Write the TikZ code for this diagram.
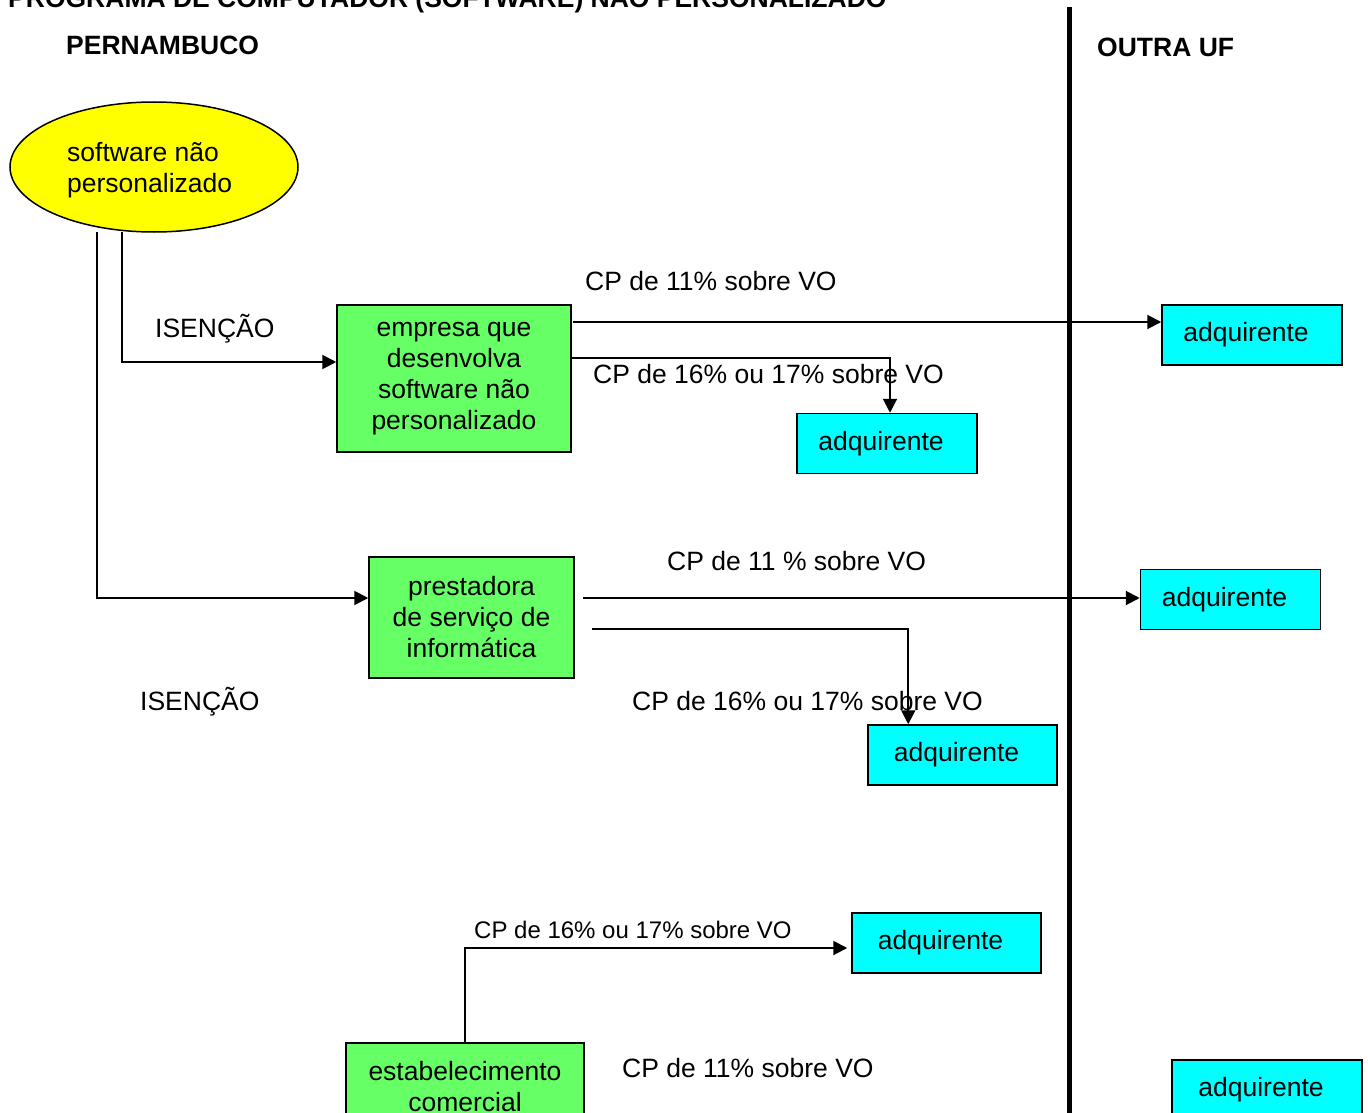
\documentclass[tikz,border=0pt]{standalone}
\usepackage{fontspec}
\setmainfont{Liberation Sans}
\usetikzlibrary{arrows.meta,shapes.geometric,calc}
\definecolor{boxgreen}{HTML}{66FF66}
\definecolor{boxcyan}{HTML}{00FFFF}
\definecolor{ellyellow}{HTML}{FFFF00}
\tikzset{
  conn/.style={line width=2pt, -{Triangle[length=14pt,width=14pt]}},
  plainline/.style={line width=2pt},
  greenbox/.style={draw, line width=1.5pt, fill=boxgreen, align=center, inner sep=0pt},
  cyanbox/.style={draw, line width=1.5pt, fill=boxcyan, inner sep=0pt, minimum width=180pt, minimum height=60pt},
  lbl/.style={anchor=base west, inner sep=0pt},
  boldlbl/.style={anchor=base west, inner sep=0pt, font=\fontsize{26.5}{31}\selectfont\bfseries},
}
\newcommand{\adqtext}{\kern-12pt\raisebox{3pt}{adquirente}}
\begin{document}
\begin{tikzpicture}[x=1pt,y=-1pt,font=\fontsize{26.5}{31}\selectfont]
\path[use as bounding box, clip] (0,0) rectangle (1368,1113);
\fill[white] (0,0) rectangle (1368,1113);

% headings
\node[boldlbl] (title) at (8,8) {PROGRAMA DE COMPUTADOR (SOFTWARE) NÃO PERSONALIZADO};
\node[boldlbl] (pe) at (66,55) {PERNAMBUCO};
\node[boldlbl] (ou) at (1097,57) {OUTRA UF};

% ellipse
\node[ellipse, draw, line width=1.5pt, fill=ellyellow, minimum width=288pt, minimum height=130pt, inner sep=0pt] (sw) at (154,167) {};
\node[anchor=west, inner sep=0pt, align=left] (swtext) at (67,170) {software não\\personalizado};

% green boxes
\node[greenbox, minimum width=234pt, minimum height=147pt] (emp) at (454,378.5) {empresa que\\desenvolva\\software não\\personalizado};
\node[greenbox, minimum width=205pt, minimum height=121pt] (pre) at (471.5,617.5) {prestadora\\de serviço de\\informática};
\node[greenbox, minimum width=238pt, minimum height=88pt] (est) at (465,1087) {estabelecimento\\comercial};

% cyan boxes
\node[cyanbox] (a1) at (1252,335) {\adqtext};
\node[cyanbox] (a2) at (887,443.5) {\adqtext};
\node[cyanbox] (a3) at (1230.5,599.5) {\adqtext};
\node[cyanbox, minimum width=189pt] (a4) at (962.5,755) {\adqtext};
\node[cyanbox, minimum width=189pt] (a5) at (946.5,943) {\adqtext};
\node[cyanbox, minimum width=190pt] (a6) at (1267,1090) {\adqtext};

% labels
\node[lbl] (l1) at (585,290) {CP de 11\% sobre VO};
\node[lbl] (l2) at (593,383) {CP de 16\% ou 17\% sobre VO};
\node[lbl] (l3) at (667,570) {CP de 11 \% sobre VO};
\node[lbl] (l4) at (632,710) {CP de 16\% ou 17\% sobre VO};
\node[lbl, font=\fontsize{24}{28}\selectfont] (l5) at (474,938) {CP de 16\% ou 17\% sobre VO};
\node[lbl] (l6) at (622,1077) {CP de 11\% sobre VO};
\node[lbl] (is1) at (155,337) {ISENÇÃO};
\node[lbl] (is2) at (140,710) {ISENÇÃO};

% connector start points
\coordinate (s1) at (97,232);
\coordinate (s2) at (122,232);
\coordinate (e1) at (573,322);
\coordinate (e2) at (571,358);
\coordinate (p1) at (583,598);
\coordinate (p2) at (592,629);

% connectors
\draw[conn] (s2) |- ([yshift=16.5pt]emp.west);
\draw[conn] (s1) |- ([yshift=19.5pt]pre.west);
\draw[conn] (e1) -- (e1 -| a1.west);
\draw[conn] (e2) -| ([xshift=3pt]a2.north);
\draw[conn] (p1) -- (p1 -| a3.west);
\draw[conn] (p2) -| ([xshift=41pt]a4.north west);
\draw[conn] (est.north) |- ([yshift=-5pt,xshift=-4pt]a5.west);

% divider
\coordinate (dtop) at (1069,7);
\coordinate (dbot) at (1069,1113);
\draw[line width=5pt] (dtop) -- (dbot);
\end{tikzpicture}
\end{document}
